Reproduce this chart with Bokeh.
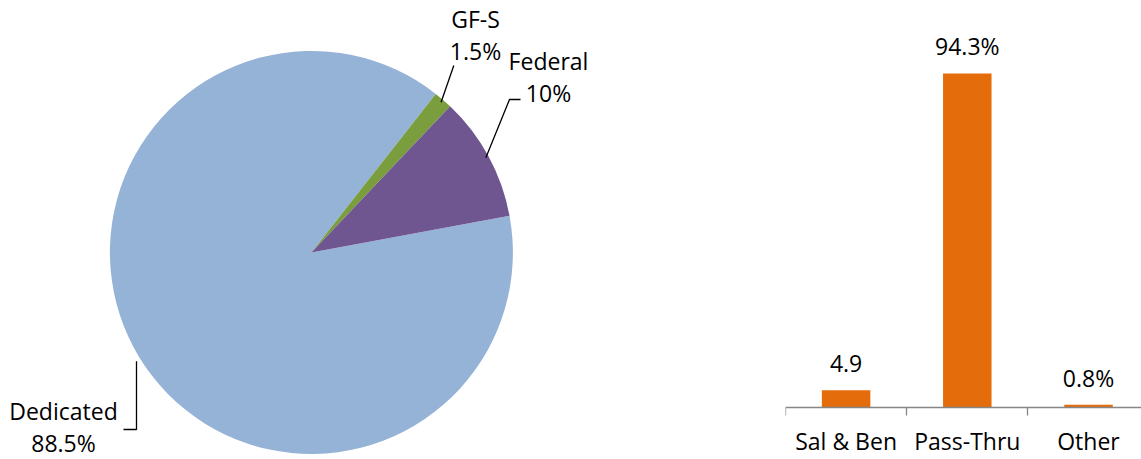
import math
from bokeh.plotting import figure
from bokeh.layouts import row
from bokeh.models import ColumnDataSource, Range1d, FixedTicker
from bokeh.core.properties import value
from bokeh.embed import file_html
from bokeh.resources import INLINE

# ---------------- data ----------------
pie_labels = ["Dedicated", "GF-S", "Federal"]
pie_values = [88.5, 1.5, 10.0]
pie_value_labels = ["88.5%", "1.5%", "10%"]
pie_colors = ["#95B3D7", "#7A9D3E", "#6F5690"]

bar_categories = ["Sal & Ben", "Pass-Thru", "Other"]
bar_values = [4.9, 94.3, 0.8]
bar_value_labels = ["4.9", "94.3%", "0.8%"]
bar_color = "#E46C0A"

# ---------------- layout / style ----------------
FONT = "Open Sans"
FS = "23px"
W1, W2, H = 785, 356, 459


def sy(y):  # screen y -> pie data y
    return H - y


# ---------------- pie ----------------
p1 = figure(width=W1, height=H, x_range=Range1d(0, W1), y_range=Range1d(0, H),
            output_backend="svg", toolbar_location=None, min_border=0,
            x_axis_location=None, y_axis_location=None, outline_line_color=None)
p1.grid.visible = False

cx, cy, r = 310.9, sy(252.0), 201.5
offset = math.radians(10.5)
total = sum(pie_values)
starts, ends, mids = [], [], []
cum = 0.0
for v in pie_values:
    a0 = offset - 2 * math.pi * cum / total
    cum += v
    a1 = offset - 2 * math.pi * cum / total
    starts.append(a0)
    ends.append(a1)
    mids.append((a0 + a1) / 2)

src = ColumnDataSource(dict(start=starts, end=ends, color=pie_colors))
p1.wedge(x=cx, y=cy, radius=r, start_angle="start", end_angle="end",
         direction="clock", fill_color="color", line_color=None, source=src)

# label anchors (centre of two-line label) and leader bends, screen coords
label_pos = {"Dedicated": (63, 426), "GF-S": (475, 34), "Federal": (548, 76)}
leader_bends = {
    "Dedicated": lambda ex, ey: [(136, ey - 6), (136, sy(429)), (123, sy(429))],
    "GF-S": lambda ex, ey: [(453.3, sy(65))],
    "Federal": lambda ex, ey: [(509, sy(99)), (520, sy(99))],
}

lx, ly = [], []
tx, ty, tt = [], [], []
for name, pct, m in zip(pie_labels, pie_value_labels, mids):
    ex = cx + r * 0.985 * math.cos(m)
    ey = cy + r * 0.985 * math.sin(m)
    pts = leader_bends[name](ex, ey)
    if name != "Dedicated":
        pts = [(ex, ey)] + pts
    lx.append([p[0] for p in pts])
    ly.append([p[1] for p in pts])
    px, py = label_pos[name]
    tx += [px, px]
    ty += [sy(py - 16), sy(py + 16)]
    tt += [name, pct]

p1.multi_line(xs=lx, ys=ly, line_color="black", line_width=1.3)
p1.text(x=tx, y=ty, text=tt, text_font=value(FONT), text_font_size=FS,
        text_align="center", text_baseline="middle", text_color="black")

# ---------------- bars ----------------
ppu = 3.542      # pixels per percent unit
base_px = 407    # screen y of the zero line
cat_px = 121.2   # pixels per category
p2 = figure(width=W2, height=H,
            x_range=Range1d(0, W2 / cat_px),
            y_range=Range1d(-(H - base_px) / ppu, base_px / ppu),
            output_backend="svg", toolbar_location=None, min_border=0,
            y_axis_location=None, outline_line_color=None)
p2.grid.visible = False

xs = [i + 0.5 for i in range(len(bar_categories))]
p2.vbar(x=xs, top=bar_values, width=0.4, fill_color=bar_color, line_color=None)
p2.text(x=xs, y=bar_values, text=bar_value_labels, y_offset=-27,
        text_font=value(FONT), text_font_size=FS, text_align="center",
        text_baseline="middle", text_color="black")

ax = p2.xaxis[0]
ax.fixed_location = 0
ax.ticker = FixedTicker(ticks=xs, minor_ticks=list(range(len(bar_categories) + 1)))
ax.major_label_overrides = {x: c for x, c in zip(xs, bar_categories)}
ax.major_tick_line_color = None
ax.major_tick_in = 0
ax.major_tick_out = 0
ax.minor_tick_in = 0
ax.minor_tick_out = 8
ax.minor_tick_line_color = "#868686"
ax.axis_line_color = "#868686"
ax.axis_line_width = 1.3
ax.minor_tick_line_width = 1.3
ax.major_label_text_font = FONT
ax.major_label_text_font_size = FS
ax.major_label_text_color = "black"
ax.major_label_standoff = 9

layout = row(p1, p2, spacing=0)
open("out.html", "w").write(file_html(layout, INLINE))
